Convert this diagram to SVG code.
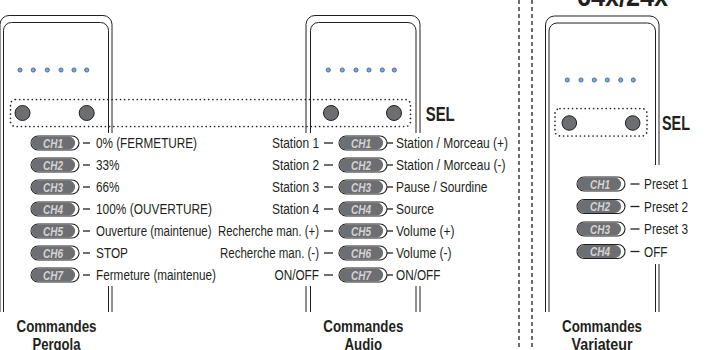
<svg xmlns="http://www.w3.org/2000/svg" xmlns:xlink="http://www.w3.org/1999/xlink" width="708" height="350" viewBox="0 0 708 350">
<style>
.frame{fill:none;stroke:#231f20;stroke-width:1}
.led{fill:#7ba7d9;stroke:#2b4a6e;stroke-width:0.7}
.btn{fill:#6d6e71;stroke:#231f20;stroke-width:1}
.sel{fill:none;stroke:#231f20;stroke-width:1.7;stroke-dasharray:0 4.2;stroke-linecap:round}
.sep{fill:none;stroke:#231f20;stroke-width:1.3;stroke-dasharray:4 3}
.lbl{font-family:"Liberation Sans",Arial,sans-serif;font-size:14px;fill:#231f20}
.ch{font-family:"Liberation Sans",Arial,sans-serif;font-size:12.5px;font-weight:bold;font-style:italic;fill:#d4d4d4;text-anchor:middle}
.ttl{font-family:"Liberation Sans",Arial,sans-serif;font-size:16px;font-weight:bold;fill:#231f20;text-anchor:middle}
.big{font-family:"Liberation Sans",Arial,sans-serif;font-weight:bold;fill:#231f20}
.dash{stroke:#231f20;stroke-width:1.3}
.end{text-anchor:end}
</style>
<defs>
<g id="pill">
<rect x="0" y="0" width="48" height="14" rx="7" fill="#fff" stroke="#231f20" stroke-width="1.1"/>
<rect x="0.6" y="0.6" width="43.5" height="12.8" rx="6.4" fill="#6d6e71"/>
</g>
</defs>

<!-- separators -->
<line class="sep" x1="519" y1="0" x2="519" y2="350"/>
<line class="sep" x1="532" y1="0" x2="532" y2="350"/>

<g id="panel-pergola">
<path class="frame" d="M0,312 V24.5 A9,9 0 0 1 9,15.5 H103 A9,9 0 0 1 112,24.5 V312"/>
<path class="frame" d="M3.5,312 V30.5 A8,8 0 0 1 11.5,22.5 H100.5 A8,8 0 0 1 108.5,30.5 V312"/>
<circle class="led" cx="20" cy="70" r="2.1"/><circle class="led" cx="33.3" cy="70" r="2.1"/><circle class="led" cx="47.3" cy="70" r="2.1"/><circle class="led" cx="61" cy="70" r="2.1"/><circle class="led" cx="74" cy="70" r="2.1"/><circle class="led" cx="86.7" cy="70" r="2.1"/>
<circle class="btn" cx="22.5" cy="113" r="7.5"/>
<circle class="btn" cx="86.7" cy="113" r="7.5"/>
</g>

<g id="panel-audio">
<path class="frame" d="M306,312 V24.5 A9,9 0 0 1 315,15.5 H411 A9,9 0 0 1 420,24.5 V312"/>
<path class="frame" d="M310.5,312 V30.5 A8,8 0 0 1 318.5,22.5 H408 A8,8 0 0 1 416,30.5 V312"/>
<circle class="led" cx="328.3" cy="70" r="2.1"/><circle class="led" cx="342.3" cy="70" r="2.1"/><circle class="led" cx="356" cy="70" r="2.1"/><circle class="led" cx="369" cy="70" r="2.1"/><circle class="led" cx="382.3" cy="70" r="2.1"/><circle class="led" cx="394.3" cy="70" r="2.1"/>
<circle class="btn" cx="331" cy="113" r="7.5"/>
<circle class="btn" cx="394" cy="113" r="7.5"/>
</g>

<g id="panel-variateur">
<path class="frame" d="M545.5,312 V25 A9,9 0 0 1 554.5,16 H650 A9,9 0 0 1 659,25 V312"/>
<path class="frame" d="M549,312 V31 A8,8 0 0 1 557,23 H647.5 A8,8 0 0 1 655.5,31 V312"/>
<circle class="led" cx="567.3" cy="80" r="2.1"/><circle class="led" cx="581" cy="80" r="2.1"/><circle class="led" cx="594.3" cy="80" r="2.1"/><circle class="led" cx="607.3" cy="80" r="2.1"/><circle class="led" cx="620.7" cy="80" r="2.1"/><circle class="led" cx="633.3" cy="80" r="2.1"/>
<circle class="btn" cx="569.3" cy="123" r="7.3"/>
<circle class="btn" cx="632.7" cy="123" r="7.3"/>
<text class="big" x="577" y="6" font-size="28" textLength="91" lengthAdjust="spacingAndGlyphs">64x/24x</text>
</g>

<!-- label backgrounds -->
<rect x="14" y="133" width="501" height="153" fill="#fff"/>
<rect x="568" y="165" width="136" height="99" fill="#fff"/>

<g id="sel-pergola-audio">
<rect class="sel" x="10.5" y="99.5" width="400" height="27" rx="5"/>
<text class="big" x="425.7" y="121" font-size="19.5" textLength="29" lengthAdjust="spacingAndGlyphs">SEL</text>
</g>
<g id="sel-variateur">
<rect class="sel" x="555" y="108.5" width="92" height="27.5" rx="5"/>
<text class="big" x="662" y="130" font-size="19.5" textLength="28" lengthAdjust="spacingAndGlyphs">SEL</text>
</g>

<g id="channels-pergola">
<use xlink:href="#pill" x="31" y="136"/><text class="ch" x="53" y="147.5" textLength="20" lengthAdjust="spacingAndGlyphs">CH1</text>
<use xlink:href="#pill" x="31" y="158"/><text class="ch" x="53" y="169.5" textLength="20" lengthAdjust="spacingAndGlyphs">CH2</text>
<use xlink:href="#pill" x="31" y="180"/><text class="ch" x="53" y="191.5" textLength="20" lengthAdjust="spacingAndGlyphs">CH3</text>
<use xlink:href="#pill" x="31" y="202"/><text class="ch" x="53" y="213.5" textLength="20" lengthAdjust="spacingAndGlyphs">CH4</text>
<use xlink:href="#pill" x="31" y="224"/><text class="ch" x="53" y="235.5" textLength="20" lengthAdjust="spacingAndGlyphs">CH5</text>
<use xlink:href="#pill" x="31" y="246"/><text class="ch" x="53" y="257.5" textLength="20" lengthAdjust="spacingAndGlyphs">CH6</text>
<use xlink:href="#pill" x="31" y="268"/><text class="ch" x="53" y="279.5" textLength="20" lengthAdjust="spacingAndGlyphs">CH7</text>
<text class="lbl" x="96" y="148" textLength="101" lengthAdjust="spacingAndGlyphs">0% (FERMETURE)</text>
<text class="lbl" x="96" y="170" textLength="23.5" lengthAdjust="spacingAndGlyphs">33%</text>
<text class="lbl" x="96" y="192" textLength="23.5" lengthAdjust="spacingAndGlyphs">66%</text>
<text class="lbl" x="96" y="214" textLength="116" lengthAdjust="spacingAndGlyphs">100% (OUVERTURE)</text>
<text class="lbl" x="96" y="236" textLength="115.5" lengthAdjust="spacingAndGlyphs">Ouverture (maintenue)</text>
<text class="lbl" x="96" y="258" textLength="32" lengthAdjust="spacingAndGlyphs">STOP</text>
<text class="lbl" x="96" y="280" textLength="120" lengthAdjust="spacingAndGlyphs">Fermeture (maintenue)</text>
</g>

<g id="channels-audio">
<use xlink:href="#pill" x="339" y="136"/><text class="ch" x="361" y="147.5" textLength="20" lengthAdjust="spacingAndGlyphs">CH1</text>
<use xlink:href="#pill" x="339" y="158"/><text class="ch" x="361" y="169.5" textLength="20" lengthAdjust="spacingAndGlyphs">CH2</text>
<use xlink:href="#pill" x="339" y="180"/><text class="ch" x="361" y="191.5" textLength="20" lengthAdjust="spacingAndGlyphs">CH3</text>
<use xlink:href="#pill" x="339" y="202"/><text class="ch" x="361" y="213.5" textLength="20" lengthAdjust="spacingAndGlyphs">CH4</text>
<use xlink:href="#pill" x="339" y="224"/><text class="ch" x="361" y="235.5" textLength="20" lengthAdjust="spacingAndGlyphs">CH5</text>
<use xlink:href="#pill" x="339" y="246"/><text class="ch" x="361" y="257.5" textLength="20" lengthAdjust="spacingAndGlyphs">CH6</text>
<use xlink:href="#pill" x="339" y="268"/><text class="ch" x="361" y="279.5" textLength="20" lengthAdjust="spacingAndGlyphs">CH7</text>
<text class="lbl end" x="319" y="148" textLength="47" lengthAdjust="spacingAndGlyphs">Station 1</text>
<text class="lbl end" x="319" y="170" textLength="47" lengthAdjust="spacingAndGlyphs">Station 2</text>
<text class="lbl end" x="319" y="192" textLength="47" lengthAdjust="spacingAndGlyphs">Station 3</text>
<text class="lbl end" x="319" y="214" textLength="47" lengthAdjust="spacingAndGlyphs">Station 4</text>
<text class="lbl end" x="319" y="236" textLength="101" lengthAdjust="spacingAndGlyphs">Recherche man. (+)</text>
<text class="lbl end" x="319" y="258" textLength="99" lengthAdjust="spacingAndGlyphs">Recherche man. (-)</text>
<text class="lbl end" x="319" y="280" textLength="44.5" lengthAdjust="spacingAndGlyphs">ON/OFF</text>
<text class="lbl" x="396" y="148" textLength="112" lengthAdjust="spacingAndGlyphs">Station / Morceau (+)</text>
<text class="lbl" x="396" y="170" textLength="109.5" lengthAdjust="spacingAndGlyphs">Station / Morceau (-)</text>
<text class="lbl" x="396" y="192" textLength="91.5" lengthAdjust="spacingAndGlyphs">Pause / Sourdine</text>
<text class="lbl" x="396" y="214" textLength="38" lengthAdjust="spacingAndGlyphs">Source</text>
<text class="lbl" x="396" y="236" textLength="58.5" lengthAdjust="spacingAndGlyphs">Volume (+)</text>
<text class="lbl" x="396" y="258" textLength="55.5" lengthAdjust="spacingAndGlyphs">Volume (-)</text>
<text class="lbl" x="396" y="280" textLength="44.5" lengthAdjust="spacingAndGlyphs">ON/OFF</text>
</g>

<g id="channels-variateur">
<use xlink:href="#pill" x="577" y="177"/><text class="ch" x="600" y="188.5" textLength="20" lengthAdjust="spacingAndGlyphs">CH1</text>
<use xlink:href="#pill" x="577" y="199.5"/><text class="ch" x="600" y="211" textLength="20" lengthAdjust="spacingAndGlyphs">CH2</text>
<use xlink:href="#pill" x="577" y="222"/><text class="ch" x="600" y="233.5" textLength="20" lengthAdjust="spacingAndGlyphs">CH3</text>
<use xlink:href="#pill" x="577" y="244.5"/><text class="ch" x="600" y="256" textLength="20" lengthAdjust="spacingAndGlyphs">CH4</text>
<text class="lbl" x="644" y="189" textLength="44" lengthAdjust="spacingAndGlyphs">Preset 1</text>
<text class="lbl" x="644" y="211.5" textLength="44" lengthAdjust="spacingAndGlyphs">Preset 2</text>
<text class="lbl" x="644" y="234" textLength="44" lengthAdjust="spacingAndGlyphs">Preset 3</text>
<text class="lbl" x="644" y="256.5" textLength="23.5" lengthAdjust="spacingAndGlyphs">OFF</text>
</g>

<g id="connectors">
<line class="dash" x1="83" y1="143" x2="90" y2="143"/>
<line class="dash" x1="83" y1="165" x2="90" y2="165"/>
<line class="dash" x1="83" y1="187" x2="90" y2="187"/>
<line class="dash" x1="83" y1="209" x2="90" y2="209"/>
<line class="dash" x1="83" y1="231" x2="90" y2="231"/>
<line class="dash" x1="83" y1="253" x2="90" y2="253"/>
<line class="dash" x1="83" y1="275" x2="90" y2="275"/>
<line class="dash" x1="324" y1="143" x2="333" y2="143"/>
<line class="dash" x1="324" y1="165" x2="333" y2="165"/>
<line class="dash" x1="324" y1="187" x2="333" y2="187"/>
<line class="dash" x1="324" y1="209" x2="333" y2="209"/>
<line class="dash" x1="324" y1="231" x2="333" y2="231"/>
<line class="dash" x1="324" y1="253" x2="333" y2="253"/>
<line class="dash" x1="324" y1="275" x2="333" y2="275"/>
<line class="dash" x1="387" y1="143" x2="393" y2="143"/>
<line class="dash" x1="387" y1="165" x2="393" y2="165"/>
<line class="dash" x1="387" y1="187" x2="393" y2="187"/>
<line class="dash" x1="387" y1="209" x2="393" y2="209"/>
<line class="dash" x1="387" y1="231" x2="393" y2="231"/>
<line class="dash" x1="387" y1="253" x2="393" y2="253"/>
<line class="dash" x1="387" y1="275" x2="393" y2="275"/>
<line class="dash" x1="630.5" y1="184" x2="639.5" y2="184"/>
<line class="dash" x1="630.5" y1="206.5" x2="639.5" y2="206.5"/>
<line class="dash" x1="630.5" y1="229" x2="639.5" y2="229"/>
<line class="dash" x1="630.5" y1="251.5" x2="639.5" y2="251.5"/>
</g>

<g id="titles">
<text class="ttl" x="56.5" y="332" textLength="80" lengthAdjust="spacingAndGlyphs">Commandes</text>
<text class="ttl" x="56.5" y="350" textLength="48" lengthAdjust="spacingAndGlyphs">Pergola</text>
<text class="ttl" x="363.3" y="332" textLength="80" lengthAdjust="spacingAndGlyphs">Commandes</text>
<text class="ttl" x="363.3" y="350" textLength="37.5" lengthAdjust="spacingAndGlyphs">Audio</text>
<text class="ttl" x="602" y="331.5" textLength="80" lengthAdjust="spacingAndGlyphs">Commandes</text>
<text class="ttl" x="602" y="349.5" textLength="61" lengthAdjust="spacingAndGlyphs">Variateur</text>
</g>
</svg>
